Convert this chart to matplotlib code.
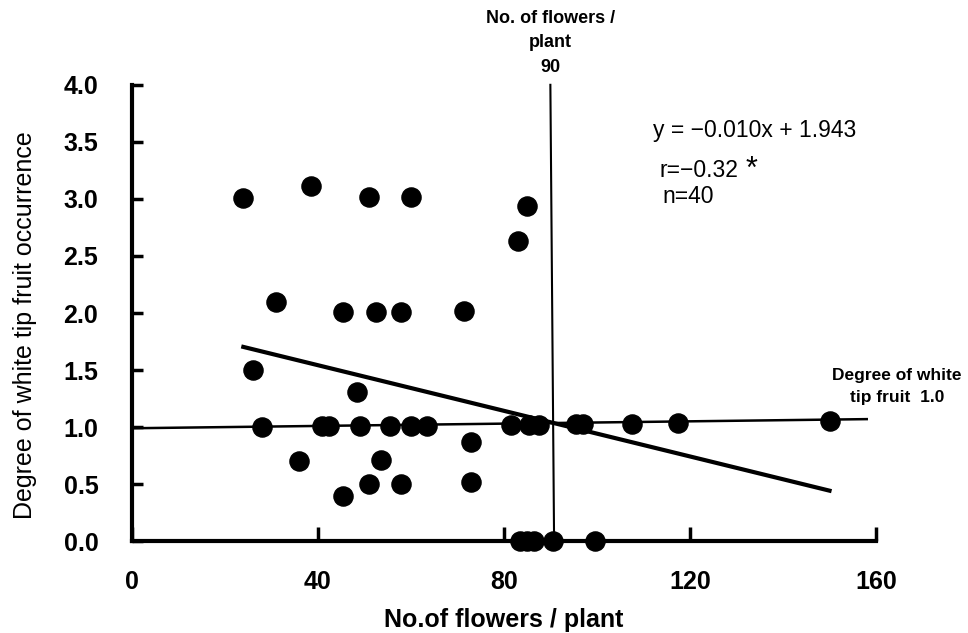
import matplotlib.pyplot as plt
import numpy as np

plt.rcParams['font.family'] = ['Liberation Sans', 'DejaVu Sans']

# Data (flowers per plant, degree of white tip fruit)
flowers = [24, 38.5, 51, 60, 85, 83,
           31, 45.5, 52.5, 58, 71.5,
           26, 48.5,
           28, 41, 42.5, 49, 55.5, 60, 63.5,
           36, 53.5, 73, 51, 58, 73, 45.5,
           81.5, 85.5, 87.5, 95.5, 97, 107.5, 117.5, 150,
           83.5, 85, 86.5, 90.5, 99.5]
degree = [3.01, 3.11, 3.02, 3.02, 2.94, 2.63,
          2.10, 2.01, 2.01, 2.01, 2.02,
          1.50, 1.31,
          1.00, 1.01, 1.01, 1.01, 1.01, 1.01, 1.01,
          0.70, 0.71, 0.87, 0.50, 0.50, 0.52, 0.40,
          1.02, 1.02, 1.02, 1.03, 1.03, 1.03, 1.04, 1.05,
          0.0, 0.0, 0.0, 0.0, 0.0]

slope, intercept = -0.010, 1.943
fit_x = [24, 150]
ref_x = [0, 158]
ref_y = [0.99, 1.07]
x_cut = 90
yticks = [0.0, 0.5, 1.0, 1.5, 2.0, 2.5, 3.0, 3.5, 4.0]
xticks = [0, 40, 80, 120, 160]

fig = plt.figure(figsize=(9.68, 6.33), dpi=100)
ax = fig.add_axes([0.136, 0.145, 0.769, 0.721])

# reference lines
ax.plot(ref_x, ref_y, color='black', lw=1.8, zorder=2, clip_on=False)
ax.plot([x_cut, x_cut + 0.8], [4.0, 0.0], color='black', lw=1.5, zorder=2, clip_on=False)

# regression line
fx = np.array(fit_x)
ax.plot(fx, slope * fx + intercept, color='black', lw=3, zorder=2)

# points
ax.scatter(flowers, degree, s=190, color='black', zorder=3, clip_on=False)

ax.set_xlim(0, 160)
ax.set_ylim(0, 4)
ax.set_xticks(xticks)
ax.set_yticks(yticks)
ax.set_yticklabels([f'{v:.1f}' for v in yticks])

for s in ['top', 'right']:
    ax.spines[s].set_visible(False)
for s in ['left', 'bottom']:
    ax.spines[s].set_linewidth(3)

ax.tick_params(axis='y', direction='in', length=8, width=2.5, labelsize=18, pad=24)
ax.tick_params(axis='x', direction='in', length=10, width=2.5, labelsize=18, pad=21)
for lab in ax.get_xticklabels() + ax.get_yticklabels():
    lab.set_fontweight('bold')

ax.set_xlabel('No.of flowers / plant', fontsize=18, fontweight='bold', labelpad=10)
ax.set_ylabel('Degree of white tip fruit occurrence', fontsize=18)
ax.yaxis.set_label_coords(-0.127, 0.474)

# annotations
ax.text(90, 4.37, 'No. of flowers /\nplant\n90', ha='center', va='center',
        fontsize=13, fontweight='bold', linespacing=1.58)
ax.text(112, 3.60, 'y = \u22120.010x + 1.943', ha='left', va='center', fontsize=16.5)
ax.text(113.5, 3.25, 'r=\u22120.32', ha='left', va='center', fontsize=16.5)
ax.text(133.3, 3.25, '*', ha='center', va='center', fontsize=22)
ax.text(114, 3.02, 'n=40', ha='left', va='center', fontsize=16.5)
ax.text(164.5, 1.355, 'Degree of white\ntip fruit  1.0', ha='center', va='center',
        fontsize=12.5, fontweight='bold', linespacing=1.6)

fig.savefig('out.png', dpi=100)
